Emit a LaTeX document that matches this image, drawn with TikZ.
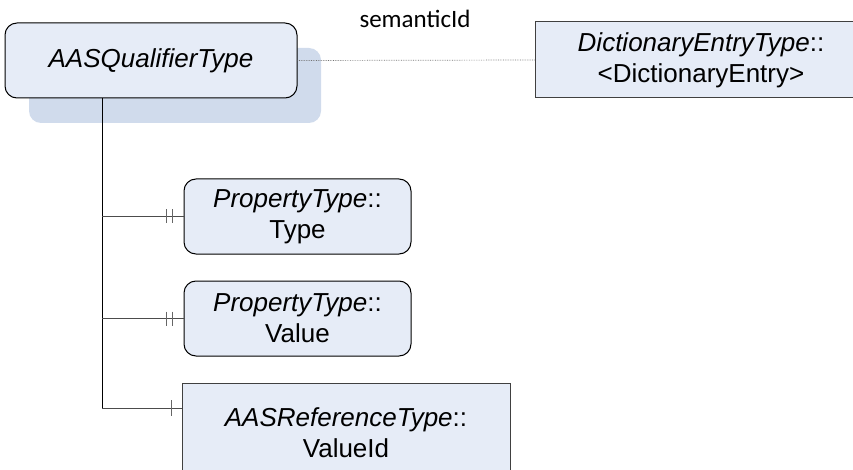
\documentclass[tikz,border=0pt]{standalone}
\usepackage{fontspec}
\setmainfont{Liberation Sans}
\newfontfamily\calibri{Carlito}
\usetikzlibrary{shadows}
\definecolor{boxfill}{HTML}{E6ECF7}
\definecolor{shadowfill}{HTML}{D0DBEC}

\tikzset{
  roundbox/.style={draw=black, line width=1pt, rounded corners=12pt, fill=boxfill,
    align=center, inner sep=0pt, font=\fontsize{26}{31}\selectfont},
  squarebox/.style={draw=black!75, line width=1pt, fill=boxfill,
    align=center, inner sep=0pt, font=\fontsize{26}{31}\selectfont},
  branch/.style={draw=black!70, line width=1pt},
  tickbar/.style={draw=black!60, line width=1pt},
}

\begin{document}
\begin{tikzpicture}[x=1pt,y=-1pt]
    \clip (0,0) rectangle (853,470);
    % qualifier and its semantic id
    \node [roundbox, minimum width=292pt, minimum height=75pt,
      drop shadow={shadow xshift=24pt, shadow yshift=-25pt, fill=shadowfill, opacity=1}]
      (qualifier) at (151,60.5) {\textit{AASQualifierType}};
    \node [squarebox, minimum width=332pt, minimum height=76pt] (dict) at (701,60)
      {\textit{DictionaryEntryType}::\\<DictionaryEntry>};
    \draw [densely dotted, black!55, line width=0.7pt] (qualifier.east) -- (dict.west);
    \node [font=\calibri\fontsize{25}{30}\selectfont] (semid) at (415,19) {semanticId};

    % children
    \node [roundbox, minimum width=227pt, minimum height=75pt] (ptype) at (297.5,216.5)
      {\textit{PropertyType}::\\Type};
    \node [roundbox, minimum width=227pt, minimum height=75pt] (pvalue) at (297.5,318.5)
      {\textit{PropertyType}::\\Value};
    \node [squarebox, minimum width=328pt, minimum height=100pt] (valueid) at (346,433)
      {\textit{AASReferenceType}::\\ValueId};

    \coordinate (trunk) at (102,0);
    \coordinate (vidjoin) at (182,408);
    \draw [line width=1pt] (qualifier.south -| trunk) -- (vidjoin -| trunk);
    \draw [branch] (ptype.west -| trunk) -- (ptype.west);
    \draw [branch] (pvalue.west -| trunk) -- (pvalue.west);
    \draw [branch] (vidjoin -| trunk) -- (vidjoin);

    % multiplicity bars
    \foreach \b in {ptype,pvalue}{
      \draw [tickbar] ([xshift=-17pt,yshift=7pt]\b.west) -- ([xshift=-17pt,yshift=-7pt]\b.west);
      \draw [tickbar] ([xshift=-11pt,yshift=7pt]\b.west) -- ([xshift=-11pt,yshift=-7pt]\b.west);
    }
    \draw [tickbar] ([xshift=-11pt,yshift=8pt]vidjoin) -- ([xshift=-11pt,yshift=-8pt]vidjoin);
\end{tikzpicture}
\end{document}
